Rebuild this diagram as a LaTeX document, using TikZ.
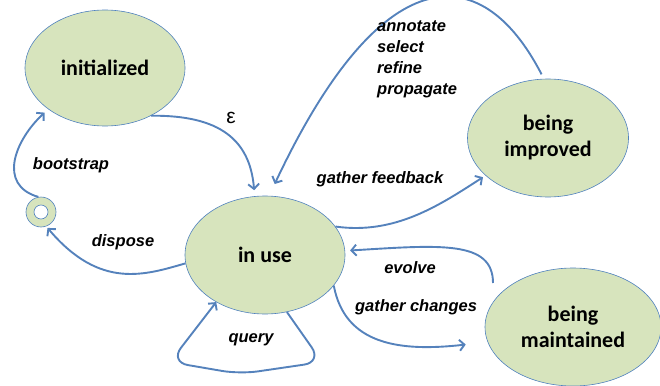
\documentclass[tikz,border=0pt]{standalone}
\usepackage{fontspec}
\setmainfont{Liberation Sans}
\newfontfamily\nodefont{Carlito}
\usetikzlibrary{shapes.geometric,arrows.meta}
\definecolor{fillg}{HTML}{D7E4BD}
\definecolor{edgeb}{HTML}{4F81BD}
\definecolor{arrb}{HTML}{5582BC}
\begin{document}
\begin{tikzpicture}[x=1pt,y=-1pt,
  state/.style={ellipse, draw=edgeb, line width=0.6pt, fill=fillg, inner sep=0pt, align=center,
    font=\nodefont\bfseries\fontsize{22}{26}\selectfont},
  conn/.style={draw=arrb, line width=1.9pt, -{Straight Barb[length=5pt,width=11pt]}},
  lbl/.style={font=\bfseries\itshape\fontsize{16.5}{20.7}\selectfont, inner sep=0pt}]
\useasboundingbox (0,0) rectangle (660,385);

\node[state, minimum width=160pt, minimum height=116pt] (init) at (105,68) {initialized};
\node[state, minimum width=160pt, minimum height=118pt] (inuse) at (265,255) {in use};
\node[state, minimum width=161pt, minimum height=118pt] (imp) at (548,138) {being\\improved};
\node[state, minimum width=176pt, minimum height=118pt] (maint) at (573,327) {being\\maintained};
\node[circle, draw=edgeb, line width=0.6pt, fill=fillg, minimum size=30pt, inner sep=0pt] (term) at (41,212) {};
\node[circle, draw=edgeb, line width=0.6pt, fill=white, minimum size=14pt, inner sep=0pt] (termin) at (term) {};

\coordinate (evs) at (493,283);

\draw[conn, shorten >=6pt] (init.314) .. controls (220,115) and (250,140) .. (inuse.100);
\draw[conn, shorten <=5pt, shorten >=13pt] (imp.94) .. controls (480,-45) and (380,-40) .. (inuse.86);
\draw[conn, shorten >=3pt] (inuse.22) .. controls (395,235) and (440,205) .. (imp.211);
\draw[conn, shorten >=5pt] (evs) .. controls (493,240) and (440,245) .. (inuse.3);
\draw[conn, shorten >=22pt] (inuse.336) .. controls (345,345) and (400,352) .. (maint.190);
\draw[conn, rounded corners=18pt] (inuse.291) -- (322,362) -- (240,374) -- (170,362) -- (inuse.224);
\draw[conn, shorten >=2pt] (inuse.186) .. controls (145,275) and (100,290) .. (term.290);
\draw[conn, shorten >=5pt] (term.100) .. controls (-3,185) and (15,140) .. (init.216);

\node[font=\fontsize{21}{21}\selectfont] (leps) at (231,118) {ε};
\node[lbl] (lboot) at (71,165) {bootstrap};
\node[lbl] (ldisp) at (123,242) {dispose};
\node[lbl] (lquery) at (251,340) {query};
\node[lbl] (levolve) at (410,268) {evolve};
\node[lbl] (lgc) at (416,307) {gather changes};
\node[lbl] (lgf) at (380,179) {gather feedback};
\node[lbl, align=left, anchor=north west] (lann) at (377,21) {annotate\\select\\refine\\propagate};
\end{tikzpicture}
\end{document}
